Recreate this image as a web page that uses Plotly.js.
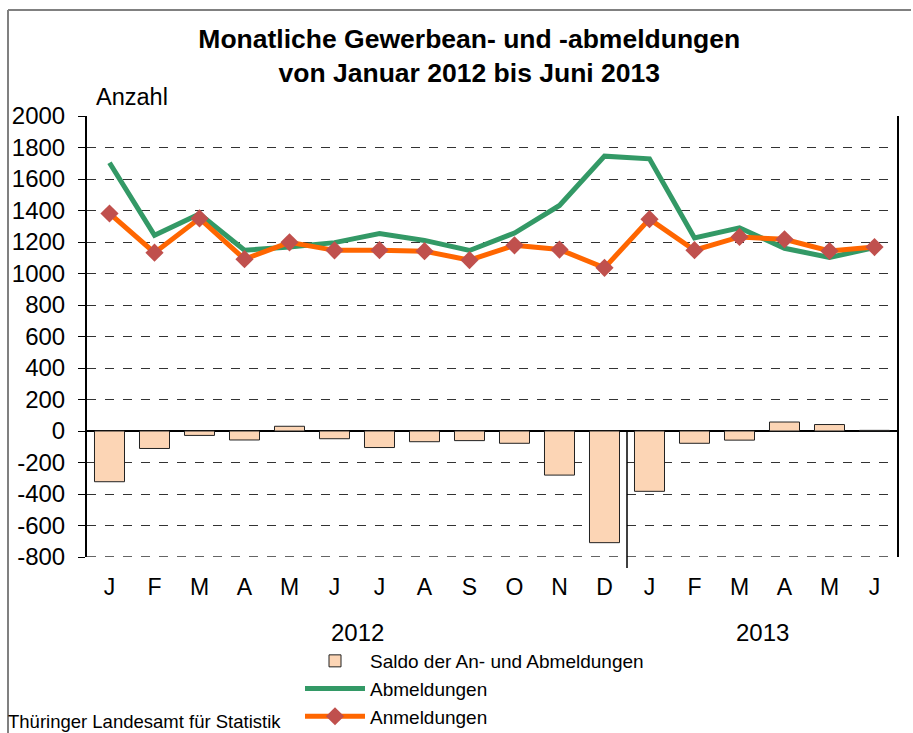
<!DOCTYPE html>
<html>
<head>
<meta charset="utf-8">
<script src="https://cdn.plot.ly/plotly-3.0.1.min.js"></script>
<style>html,body{margin:0;padding:0;background:#fff;}#chart{width:913px;height:733px;}</style>
</head>
<body>
<div id="chart"></div>
<script>
// Data
const monthLabels = ['J','F','M','A','M','J','J','A','S','O','N','D','J','F','M','A','M','J'];
const yearLabels = ['2012', '2013'];
const abmeldungen = [1703, 1243, 1378, 1148, 1168, 1196, 1253, 1210, 1146, 1257, 1432, 1745, 1728, 1226, 1290, 1160, 1102, 1164];
const anmeldungen = [1381, 1132, 1350, 1091, 1198, 1147, 1148, 1142, 1085, 1179, 1152, 1036, 1345, 1148, 1232, 1217, 1143, 1168];
const saldo = [-322, -111, -28, -57, 30, -49, -105, -68, -61, -78, -280, -709, -383, -78, -58, 57, 41, 4];
const seriesNames = ['Saldo der An- und Abmeldungen', 'Abmeldungen', 'Anmeldungen'];
const yTickVals = [-800, -600, -400, -200, 0, 200, 400, 600, 800, 1000, 1200, 1400, 1600, 1800, 2000];
const yTickText = ['-800', '-600', '-400', '-200', '0', '200', '400', '600', '800', '1000', '1200', '1400', '1600', '1800', '2000'];
const titleText = 'Monatliche Gewerbean- und -abmeldungen<br>von Januar 2012 bis Juni 2013';
const yTitle = 'Anzahl';
const sourceText = 'Thüringer Landesamt für Statistik';

const xIdx = monthLabels.map((_, i) => i);
const FONT = 'Liberation Sans, Arial, sans-serif';

// pixel helpers for plot area (l=87, t=116, w=810, h=441)
const L = 87, T = 116, W = 810, H = 441;
const px = x => (x - L) / W;
const py = y => (T + H - y) / H;

const traces = [
  {
    type: 'bar', x: xIdx, y: saldo, name: seriesNames[0], width: 0.667,
    marker: {color: '#FCD5B5', line: {color: '#222222', width: 1}}
  },
  {
    type: 'scatter', mode: 'lines', x: xIdx, y: abmeldungen, name: seriesNames[1],
    line: {color: '#339966', width: 5}
  },
  {
    type: 'scatter', mode: 'lines+markers', x: xIdx, y: anmeldungen, name: seriesNames[2],
    line: {color: '#FF6600', width: 5},
    marker: {symbol: 'diamond', size: 14, color: '#C0504D'}
  }
];

const layout = {
  width: 913, height: 733,
  margin: {l: L, r: 913 - L - W, t: T, b: 733 - T - H, pad: 0, autoexpand: false},
  paper_bgcolor: '#ffffff', plot_bgcolor: '#ffffff',
  font: {family: FONT, color: '#000000', size: 20},
  showlegend: true,
  title: {
    text: '<b>' + titleText + '</b>',
    font: {family: FONT, size: 26.5, color: '#000'},
    x: 0.514, xanchor: 'center', xref: 'container',
    y: 1 - 48 / 733, yanchor: 'top', yref: 'container'
  },
  xaxis: {
    range: [-0.5, monthLabels.length - 0.5],
    tickmode: 'array', tickvals: xIdx, ticktext: monthLabels,
    ticks: '', showgrid: false, zeroline: false, showline: false,
    tickfont: {family: FONT, size: 23, color: '#000'},
    ticklabelstandoff: 14, fixedrange: true
  },
  yaxis: {
    range: [-800, 2000], tickmode: 'array', tickvals: yTickVals, ticktext: yTickText,
    showgrid: true, gridcolor: '#333333', griddash: 'dash', gridwidth: 1,
    zeroline: true, zerolinecolor: '#000000', zerolinewidth: 1.5,
    showline: true, linecolor: '#000000', linewidth: 2, mirror: true,
    ticks: 'outside', ticklen: 7, tickcolor: '#000', tickwidth: 1,
    tickfont: {family: FONT, size: 24, color: '#000'},
    ticklabelstandoff: 8, fixedrange: true
  },
  legend: {
    x: px(300), xanchor: 'left', y: py(642), yanchor: 'top',
    font: {family: FONT, size: 19, color: '#000'},
    itemwidth: 60, tracegroupgap: 0, bgcolor: 'rgba(0,0,0,0)',
    traceorder: 'normal'
  },
  annotations: [
    {text: yTitle, xref: 'paper', yref: 'paper', x: px(94), y: py(97), xanchor: 'left', yanchor: 'middle',
     showarrow: false, font: {family: FONT, size: 23.5, color: '#000'}},
    {text: yearLabels[0], xref: 'x', yref: 'paper', x: 5.5, y: py(632), xanchor: 'center', yanchor: 'middle',
     showarrow: false, font: {family: FONT, size: 24, color: '#000'}},
    {text: yearLabels[1], xref: 'x', yref: 'paper', x: 14.5, y: py(632), xanchor: 'center', yanchor: 'middle',
     showarrow: false, font: {family: FONT, size: 24, color: '#000'}},
    {text: sourceText, xref: 'paper', yref: 'paper', x: px(6), y: py(721), xanchor: 'left', yanchor: 'middle',
     showarrow: false, font: {family: FONT, size: 18.5, color: '#000'}}
  ],
  shapes: [
    {type: 'line', xref: 'paper', yref: 'y', x0: 0, x1: 1, y0: yTickVals[0], y1: yTickVals[0],
     line: {color: '#333333', width: 1.5, dash: 'dash'}},
    {type: 'line', xref: 'x', yref: 'paper', x0: 11.5, x1: 11.5, y0: py(431), y1: py(568),
     line: {color: '#000', width: 1.5}},
    {type: 'line', xref: 'paper', yref: 'paper', x0: px(8), x1: px(911), y0: py(10), y1: py(10),
     line: {color: '#808080', width: 2}},
    {type: 'line', xref: 'paper', yref: 'paper', x0: px(8), x1: px(8), y0: py(10), y1: py(740),
     line: {color: '#808080', width: 2}}
  ]
};

Plotly.newPlot('chart', traces, layout, {displayModeBar: false, staticPlot: true});
</script>
</body>
</html>
